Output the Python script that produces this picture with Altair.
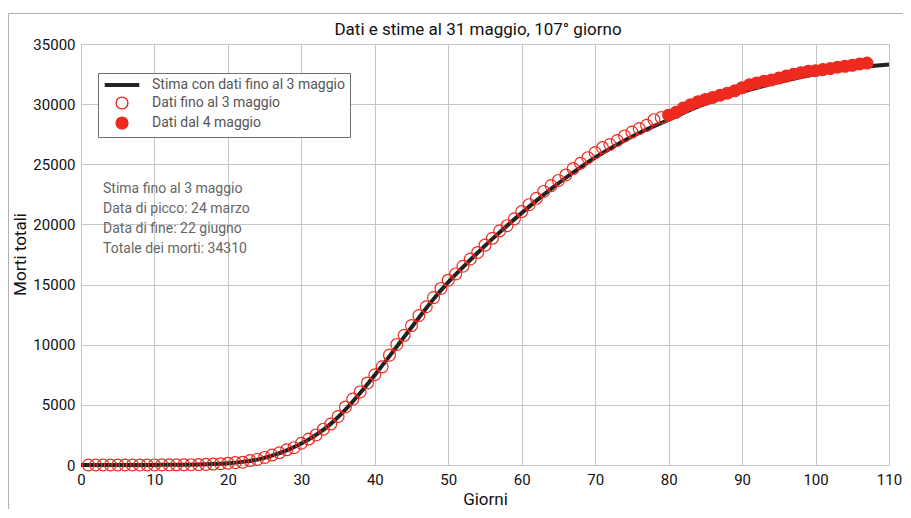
import altair as alt
import pandas as pd

# ---- data ----
serie_names = ["Stima con dati fino al 3 maggio", "Dati fino al 3 maggio", "Dati dal 4 maggio"]

giorni_prima = list(range(1, 80))
morti_prima = [0, 0, 0, 0, 0, 0, 1, 2, 3, 7, 10, 12, 17, 21, 29, 34, 52, 79, 107, 148,
               197, 233, 366, 463, 631, 827, 1016, 1266, 1441, 1809,
               2158, 2503, 2978, 3405, 4032, 4825, 5476, 6077, 6820, 7503,
               8165, 9134, 10023, 10779, 11591, 12428, 13155, 13915, 14681, 15362,
               15887, 16523, 17127, 17669, 18279, 18849, 19468, 19899, 20465, 21067,
               21645, 22170, 22745, 23227, 23660, 24114, 24648, 25085, 25549, 25969,
               26384, 26644, 26977, 27359, 27682, 27967, 28236, 28710, 28884]

giorni_dopo = list(range(80, 108))
morti_dopo = [29079, 29315, 29684, 29958, 30201, 30395, 30560, 30739, 30911, 31106, 31368,
              31610, 31763, 31908, 32007, 32169, 32330, 32486, 32616, 32735, 32785,
              32877, 32955, 33072, 33142, 33229, 33340, 33415]

stima_x = list(range(0, 111, 2))
stima_y = [0, 0, 0, 2, 5, 10, 15, 25, 40, 80, 150, 260, 450, 780, 1220, 1780,
           2500, 3420, 4600, 5980, 7480, 9050, 10650, 12250, 13800, 15200,
           16450, 17650, 18800, 19900, 20950, 21980, 22960, 23880, 24750, 25560,
           26300, 26980, 27600, 28170, 28700, 29280, 29800, 30260, 30660, 31020,
           31360, 31680, 31980, 32260, 32510, 32730, 32920, 33080, 33200, 33300]

note_lines = ["Stima fino al 3 maggio", "Data di picco: 24 marzo",
              "Data di fine: 22 giugno", "Totale dei morti: 34310"]
title_text = "Dati e stime al 31 maggio, 107° giorno"

x_ticks = list(range(0, 111, 10))
y_ticks = list(range(0, 35001, 5000))

# ---- tables ----
df_stima = pd.DataFrame({"x": stima_x, "y": stima_y, "serie": serie_names[0]})
df_prima = pd.DataFrame({"x": giorni_prima, "y": morti_prima, "serie": serie_names[1]})
df_dopo = pd.DataFrame({"x": giorni_dopo, "y": morti_dopo, "serie": serie_names[2]})
df_note = pd.DataFrame({"t": [note_lines]})
df_title = pd.DataFrame({"t": [title_text]})

FONT = "Roboto"
RED = "#ee2a1f"
LINE_SYMBOL = "M-2.8,-0.2H2.8V0.2H-2.8Z"

xscale = alt.Scale(domain=[0, 110], nice=False)
yscale = alt.Scale(domain=[0, 35000], nice=False)

legend = alt.Legend(
    orient="none", legendX=17, legendY=29, direction="vertical",
    fillColor="white",
    padding=5, symbolSize=140, symbolOffset=12, labelOffset=23,
    labelFontSize=14, labelColor="#555555", labelFont=FONT,
    labelLimit=400, symbolStrokeWidth=1.4, symbolOpacity=1,
)

stroke_enc = alt.Stroke("serie:N", title=None, legend=legend,
                        scale=alt.Scale(domain=serie_names, range=["#222222", RED, RED]))
fill_enc = alt.Fill("serie:N", title=None, legend=legend,
                    scale=alt.Scale(domain=serie_names, range=["#222222", "transparent", RED]))
shape_enc = alt.Shape("serie:N", title=None, legend=legend,
                      scale=alt.Scale(domain=serie_names, range=[LINE_SYMBOL, "circle", "circle"]))

xenc = alt.X("x:Q", scale=xscale, title="Giorni",
             axis=alt.Axis(values=x_ticks, labelPadding=7, labelFlush=False,
                           titleX=404, titleY=34, titleBaseline="middle", titleAlign="center"))
yenc = alt.Y("y:Q", scale=yscale, title="Morti totali",
             axis=alt.Axis(values=y_ticks, format="d", labelPadding=6, labelFlush=False,
                           titleX=-61, titleY=210, titleBaseline="middle",
                           titleAlign="center", titleAngle=270))

line = alt.Chart(df_stima).mark_line(strokeWidth=4, interpolate="monotone").encode(
    x=xenc, y=yenc, stroke=stroke_enc)

open_pts = alt.Chart(df_prima).mark_point(size=140, strokeWidth=1.2, opacity=1).encode(
    x="x:Q", y="y:Q", stroke=stroke_enc, fill=fill_enc, shape=shape_enc)

full_pts = alt.Chart(df_dopo).mark_point(size=140, strokeWidth=1.2, opacity=1).encode(
    x="x:Q", y="y:Q", stroke=stroke_enc, fill=fill_enc, shape=shape_enc)

note = alt.Chart(df_note).mark_text(
    align="left", baseline="top", fontSize=14, font=FONT, color="#666666", lineHeight=20
).encode(x=alt.datum(3.0), y=alt.datum(23500), text="t")

title = alt.Chart(df_title).mark_text(
    align="center", baseline="middle", fontSize=17, font=FONT, color="#111111"
).encode(x=alt.value(397), y=alt.value(-14), text="t")

frame_df = pd.DataFrame({"k": [0]})
frame_left = alt.Chart(frame_df).mark_rule(color="#b0b0b0", strokeWidth=1).encode(
    x=alt.value(-72.5), y=alt.value(-30.5), y2=alt.value(470))
frame_top = alt.Chart(frame_df).mark_rule(color="#b0b0b0", strokeWidth=1).encode(
    x=alt.value(-72.5), x2=alt.value(822), y=alt.value(-30.5))

chart = alt.layer(frame_left, frame_top, line, open_pts, full_pts, note, title).properties(
    width=808, height=421,
    autosize=alt.AutoSizeParams(type="none"),
    padding={"left": 73, "top": 36, "right": 14, "bottom": 44},
).configure_view(stroke="#b5b5b5", strokeWidth=1).configure_axis(
    grid=True, gridColor="#c6c6c6", gridWidth=1, domain=False, ticks=False,
    labelFont=FONT, labelFontSize=15, labelColor="#111111",
    titleFont=FONT, titleFontSize=17, titleFontWeight="normal", titleColor="#111111",
).configure_legend(strokeColor="#707070", strokeWidth=1, rowPadding=2)

chart.save("out.html", embed_options={"renderer": "svg", "actions": False})
